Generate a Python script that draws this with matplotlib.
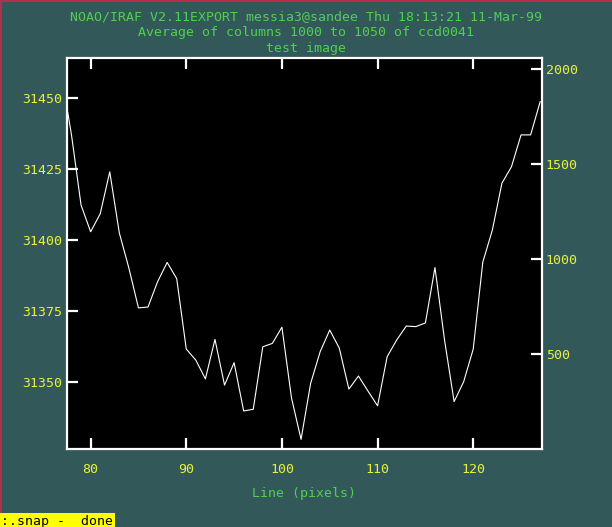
import matplotlib
matplotlib.use("Agg")
import matplotlib.pyplot as plt
from matplotlib.lines import Line2D

# averaged column profile, one value per image line
lines = [77, 78, 79, 80, 81, 82, 83, 84, 85, 86, 87, 88, 89, 90, 91, 92, 93, 94,
         95, 96, 97, 98, 99, 100, 101, 102, 103, 104, 105, 106, 107, 108, 109,
         110, 111, 112, 113, 114, 115, 116, 117, 118, 119, 120, 121, 122, 123,
         124, 125, 126, 127]
counts = [31457.1, 31436.9, 31412.2, 31402.8, 31409.1, 31423.9, 31402.4, 31390.0,
          31376.0, 31376.3, 31385.2, 31392.0, 31386.3, 31361.5, 31357.6, 31351.0,
          31364.9, 31348.8, 31356.7, 31339.7, 31340.3, 31362.3, 31363.5, 31369.2,
          31344.3, 31329.7, 31349.4, 31360.6, 31368.2, 31361.8, 31347.4, 31352.0,
          31346.7, 31341.5, 31358.8, 31364.7, 31369.6, 31369.4, 31370.7, 31390.2,
          31364.7, 31343.0, 31350.0, 31361.5, 31392.1, 31403.4, 31419.9, 31425.7,
          31436.9, 31436.9, 31448.6]

x_ticks = [80, 90, 100, 110, 120]
y_ticks = [31350, 31375, 31400, 31425, 31450]
y2_ticks = [500, 1000, 1500, 2000]

title_lines = [
    "NOAO/IRAF V2.11EXPORT messia3@sandee Thu 18:13:21 11-Mar-99",
    "Average of columns 1000 to 1050 of ccd0041",
    "test image",
]

BG = "#33585a"
GREEN = "#50d050"
YELLOW = "#e8f040"
MONO = "DejaVu Sans Mono"
FS = 9.5

fig = plt.figure(figsize=(6.12, 5.27), dpi=100, facecolor=BG)
ax = fig.add_axes([0.109, 0.1474, 0.776, 0.7416])
ax.set_facecolor("black")
ax.plot(lines, counts, color="white", lw=0.8)
ax.set_xlim(77.5, 127.15)
ax.set_ylim(31326.2, 31463.8)

ax.set_xticks(x_ticks)
ax.set_yticks(y_ticks)
ax.tick_params(axis="x", which="both", direction="in", top=True, bottom=True,
               length=8, width=1.6, color="white", labelcolor=YELLOW,
               labelsize=FS, pad=10)
ax.tick_params(axis="y", which="both", direction="in", left=True, right=False,
               length=8, width=1.6, color="white", labelcolor=YELLOW,
               labelsize=FS, pad=3)
for lab in ax.get_xticklabels() + ax.get_yticklabels():
    lab.set_family(MONO)
for s in ax.spines.values():
    s.set_color("white")
    s.set_linewidth(1.6)

ax2 = ax.twinx()
ax2.set_ylim(0, 2056.8)
ax2.set_yticks(y2_ticks)
ax2.tick_params(axis="y", direction="in", right=True, left=False, length=8,
                width=1.6, color="white", labelcolor=YELLOW, labelsize=FS, pad=3)
for lab in ax2.get_yticklabels():
    lab.set_family(MONO)
for s in ax2.spines.values():
    s.set_visible(False)

ax.set_xlabel("Line (pixels)", color=GREEN, family=MONO, fontsize=FS, labelpad=7.5)

for i, t in enumerate(title_lines):
    fig.text(0.5, 1 - (16.7 + 15.8 * i) / 527, t, color=GREEN, family=MONO,
             fontsize=FS, ha="center", va="center")

# status line at the bottom left
fig.text(0.002, 6 / 527, ":.snap -  done", color="black", family=MONO,
         fontsize=FS, ha="left", va="center",
         bbox=dict(boxstyle="square,pad=0.1", facecolor="#ffff00", edgecolor="none"))

# window frame
fig.add_artist(Line2D([0.001, 0.001], [0, 1], color="#b03050", lw=1.5,
                      transform=fig.transFigure))
fig.add_artist(Line2D([0, 1], [0.999, 0.999], color="#b03050", lw=1.5,
                      transform=fig.transFigure))

fig.savefig("out.png", dpi=100, facecolor=BG)
